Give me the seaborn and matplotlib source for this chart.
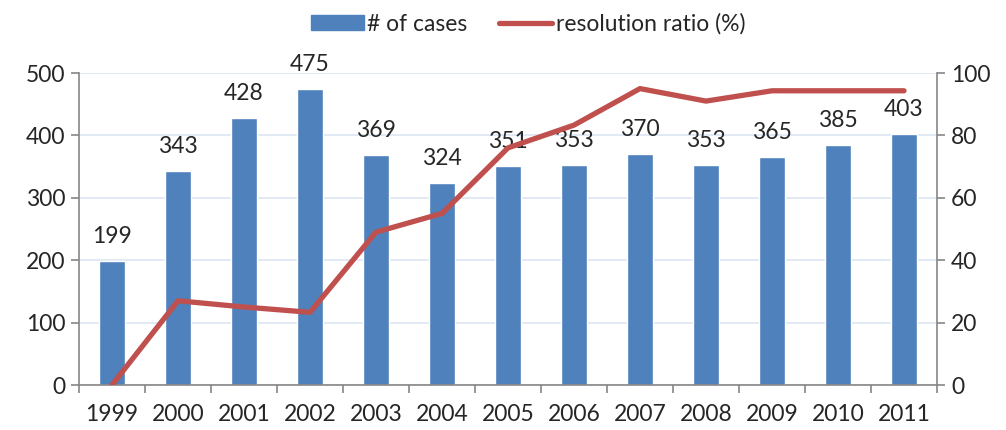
import matplotlib
matplotlib.use("Agg")
import matplotlib.pyplot as plt
import seaborn as sns
import numpy as np
import pandas as pd
from matplotlib.patches import Patch
from matplotlib.lines import Line2D

years = ["1999", "2000", "2001", "2002", "2003", "2004", "2005", "2006", "2007", "2008", "2009", "2010", "2011"]
cases = [199, 343, 428, 475, 369, 324, 351, 353, 370, 353, 365, 385, 403]
ratio = [0, 27, 25, 23.3, 49, 55, 76, 83.3, 95, 91, 94.3, 94.3, 94.3]

sns.set_theme(style="white")
plt.rcParams['font.family'] = ['Lato', 'DejaVu Sans']

bar_color = "#4F81BD"
line_color = "#C0504D"
axis_color = "#868686"
fs = 16.5

df = pd.DataFrame({"year": years, "cases": cases, "ratio": ratio, "pos": np.arange(len(years))})

fig = plt.figure(figsize=(10.06, 4.3), dpi=100)
ax = fig.add_axes([79/1006, 1-385/430, (937-79)/1006, (385-73)/430])

sns.barplot(data=df, x="year", y="cases", color=bar_color, width=0.4, saturation=1, ax=ax, zorder=2)
ax.bar_label(ax.containers[0], labels=[str(v) for v in cases], padding=10, fontsize=fs)

ax.set_ylim(0, 500)
ax.set_yticks(range(0, 501, 100))
ax.set_xlim(-0.5, len(years) - 0.5)
ax.set_xlabel("")
ax.set_ylabel("")
ax.grid(axis="y", color="#DCE6F2", linewidth=1.2, zorder=0)
ax.set_axisbelow(True)

ax2 = ax.twinx()
sns.lineplot(data=df, x="pos", y="ratio", color=line_color, linewidth=3.8, ax=ax2, zorder=3)
ax2.set_ylim(0, 100)
ax2.set_yticks(range(0, 101, 20))
ax2.set_ylabel("")
ax2.set_xlim(-0.5, len(years) - 0.5)
ax2.set_xlabel("")

for a in (ax, ax2):
    for s in a.spines.values():
        s.set_visible(False)
ax.spines["left"].set_visible(True)
ax.spines["bottom"].set_visible(True)
ax2.spines["right"].set_visible(True)
for s in (ax.spines["left"], ax.spines["bottom"], ax2.spines["right"]):
    s.set_color(axis_color)
    s.set_linewidth(1.2)

ax.tick_params(axis="y", left=True, length=6, color=axis_color, labelsize=fs, pad=4, width=1.2)
ax2.tick_params(axis="y", right=True, length=6, color=axis_color, labelsize=fs, pad=4, width=1.2)
ax.set_xticks(np.arange(len(years)))
ax.set_xticklabels(years)
ax.set_xticks(np.arange(-0.5, len(years), 1), minor=True)
ax.tick_params(axis="x", which="major", bottom=False, labelsize=fs, pad=8)
ax.tick_params(axis="x", which="minor", bottom=True, length=6, color=axis_color, width=1.2)
ax2.tick_params(axis="x", bottom=False, labelbottom=False)

handles = [Patch(facecolor=bar_color, edgecolor=bar_color),
           Line2D([0], [0], color=line_color, linewidth=3.8)]
fig.legend(handles, ["# of cases", "resolution ratio (%)"], loc="center",
           bbox_to_anchor=(528/1006, 1-24/430), ncol=2, frameon=False, fontsize=fs,
           handlelength=2.3, handleheight=0.65, handletextpad=0.15, columnspacing=1.4)

fig.savefig("out.png", dpi=100)
